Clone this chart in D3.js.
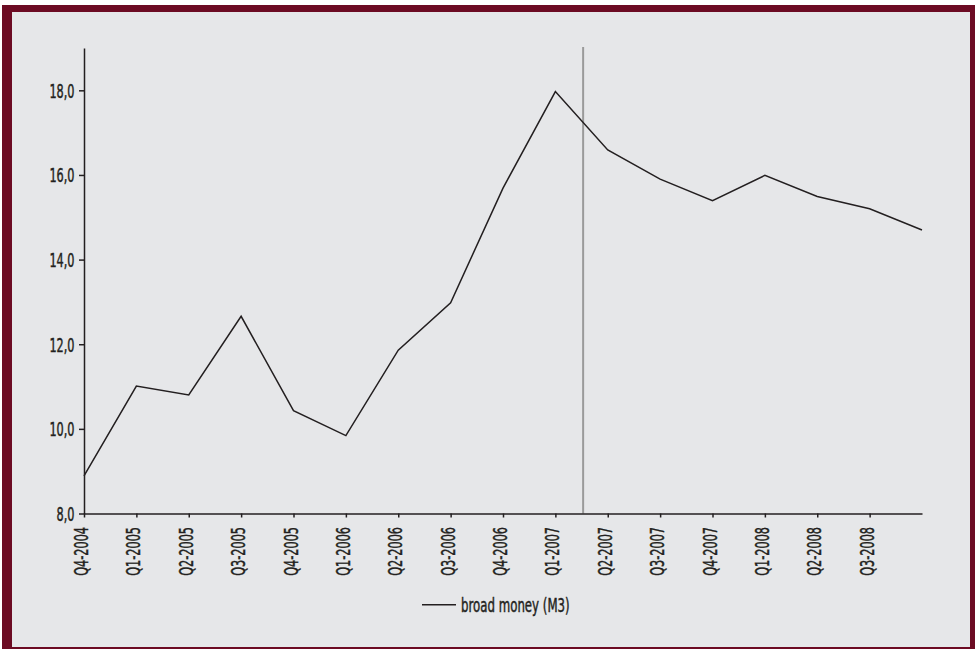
<!DOCTYPE html>
<html>
<head>
<meta charset="utf-8">
<script src="https://cdn.jsdelivr.net/npm/d3@7"></script>
<style>
  html, body { margin: 0; padding: 0; background: #ffffff; }
  svg { display: block; }
  text { font-family: "DejaVu Sans Condensed", "Liberation Sans Narrow", sans-serif; fill: #231f20; stroke: #231f20; stroke-width: 0.45px; }
</style>
</head>
<body>
<svg id="chart" width="975" height="649"></svg>
<script>
// ---- data ----
const categories = ["Q4-2004","Q1-2005","Q2-2005","Q3-2005","Q4-2005","Q1-2006","Q2-2006","Q3-2006",
  "Q4-2006","Q1-2007","Q2-2007","Q3-2007","Q4-2007","Q1-2008","Q2-2008","Q3-2008","Q4-2008"];
const tickLabels = ["Q4-2004","Q1-2005","Q2-2005","Q3-2005","Q4-2005","Q1-2006","Q2-2006","Q3-2006",
  "Q4-2006","Q1-2007","Q2-2007","Q3-2007","Q4-2007","Q1-2008","Q2-2008","Q3-2008"];
const broadMoney = [8.89, 11.01, 10.80, 12.66, 10.43, 9.84, 11.86, 12.98, 15.69, 17.97, 16.59, 15.90, 15.39, 15.99, 15.49, 15.20, 14.70];
const yTicks = [8, 10, 12, 14, 16, 18];
const yDomain = [8, 19];
const markerPosition = 9.53; // between Q1-2007 and Q2-2007 (category index)
const seriesName = "broad money (M3)";

// ---- layout ----
const W = 975, H = 649;
const svg = d3.select("#chart");
const FS = 19;     // font size
const SX = 0.66;   // horizontal condensing of the font
const SXL = 0.69;  // legend condensing

// frame
svg.append("rect").attr("x", 2).attr("y", 5).attr("width", W - 2).attr("height", H - 5).attr("fill", "#6c0b23");
svg.append("rect").attr("x", 12).attr("y", 12).attr("width", 958).attr("height", 635).attr("fill", "#e6e7e9");

const x = d3.scaleLinear().domain([0, categories.length - 1]).range([84, 922]);
const y = d3.scaleLinear().domain(yDomain).range([513.5, 48]);

// vertical marker line
svg.append("line")
  .attr("x1", x(markerPosition)).attr("x2", x(markerPosition))
  .attr("y1", y(yDomain[1]) - 1).attr("y2", y(yDomain[0]))
  .attr("stroke", "#9a9a9a").attr("stroke-width", 2);

// y axis
const yAxis = d3.axisLeft(y).tickValues(yTicks).tickSize(5).tickSizeOuter(0).tickPadding(4)
  .tickFormat(d => d3.format(".1f")(d).replace(".", ","));
const gy = svg.append("g").attr("transform", "translate(84,0)").call(yAxis);
gy.select(".domain").attr("stroke", "#231f20").attr("stroke-width", 1.5);
gy.selectAll(".tick line").attr("stroke", "#231f20").attr("stroke-width", 1.5);
gy.selectAll(".tick text")
  .attr("font-size", FS).attr("fill", "#231f20")
  .attr("x", -9.5 / SX).attr("dy", "0.36em")
  .attr("transform", `scale(${SX},1)`);

// x axis
const xAxis = d3.axisBottom(x).tickValues(d3.range(tickLabels.length)).tickSize(4).tickSizeOuter(0)
  .tickFormat(i => tickLabels[i]);
const gx = svg.append("g").attr("transform", `translate(0,${y(yDomain[0])})`).call(xAxis);
gx.select(".domain").attr("stroke", "#231f20").attr("stroke-width", 1.5);
gx.selectAll(".tick line").attr("stroke", "#231f20").attr("stroke-width", 1.5);
gx.selectAll(".tick text")
  .attr("font-size", FS).attr("fill", "#231f20")
  .attr("text-anchor", "end")
  .attr("x", 0).attr("y", 0).attr("dy", 0)
  .attr("transform", `translate(3.5,13.5) rotate(-90) scale(${SX},1)`);

// series line
const line = d3.line().x((d, i) => x(i)).y(d => y(d));
svg.append("path").datum(broadMoney)
  .attr("d", line)
  .attr("fill", "none").attr("stroke", "#231f20").attr("stroke-width", 1.5)
  .attr("stroke-linejoin", "miter");

// legend
const lg = svg.append("g").attr("transform", "translate(422,604.7)");
lg.append("line").attr("x1", 0).attr("x2", 34).attr("y1", 0).attr("y2", 0)
  .attr("stroke", "#231f20").attr("stroke-width", 1.5);
lg.append("text").attr("x", 39 / SXL).attr("y", 0).attr("dy", "0.36em")
  .attr("font-size", FS).attr("transform", `scale(${SXL},1)`)
  .text(seriesName);
</script>
</body>
</html>
